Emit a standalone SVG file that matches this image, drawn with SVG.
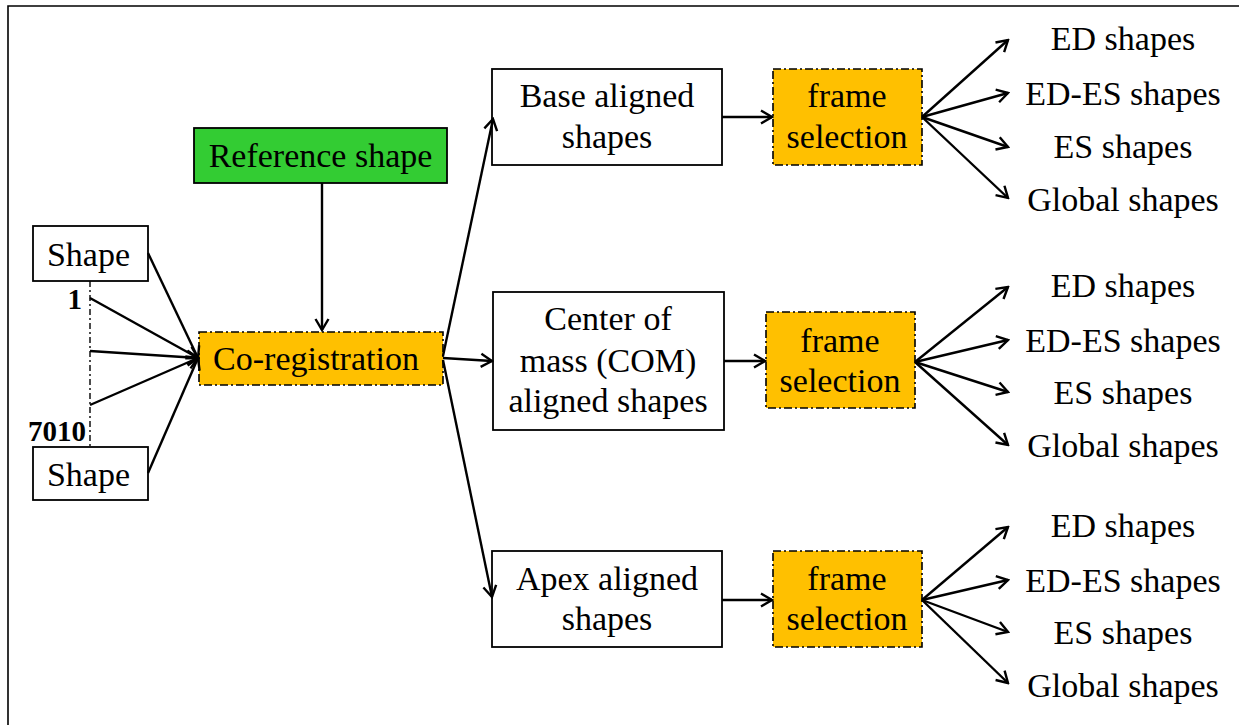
<svg xmlns="http://www.w3.org/2000/svg" width="1239" height="725" viewBox="0 0 1239 725">
<style>
text{font-family:"Liberation Serif","Times New Roman",serif;font-size:34px;fill:#000;text-anchor:middle}
.b{font-weight:bold;font-size:29px;text-anchor:end}
.box{fill:#fff;stroke:#000;stroke-width:1.8}
.sel{fill:#FFC000;stroke:#000;stroke-width:1.6;stroke-dasharray:8 3 2 3}
.ref{fill:#33CC33;stroke:#000;stroke-width:1.8}
.c line{stroke:#000;stroke-width:2.4;marker-end:url(#ah)}
</style>
<defs>
<marker id="ah" viewBox="-13 -8 15 16" refX="0" refY="0" markerWidth="15" markerHeight="16" markerUnits="userSpaceOnUse" orient="auto">
<path d="M-11,-6.5 L0,0 L-11,6.5" fill="none" stroke="#000" stroke-width="2.4"/>
</marker>
</defs>
<rect width="1239" height="725" fill="#fff"/>
<path d="M8,725 L8,6 L1239,6" fill="none" stroke="#000" stroke-width="1.6"/>

<g id="shape1"><rect class="box" x="33" y="226" width="115" height="55"/><text x="88.5" y="266">Shape</text></g>
<g id="shape2"><rect class="box" x="33" y="447" width="115" height="53"/><text x="88.5" y="486">Shape</text></g>
<g id="range"><line x1="90" y1="281" x2="90" y2="447" stroke="#000" stroke-width="1.4" stroke-dasharray="6 3 2 3"/><text class="b" x="82" y="309">1</text><text class="b" x="86" y="441">7010</text></g>
<g id="ref"><rect class="ref" x="194" y="128" width="253" height="55"/><text x="320.5" y="167">Reference shape</text></g>
<g id="coreg"><rect class="sel" x="199" y="332" width="244" height="53"/><text x="316" y="370">Co-registration</text></g>

<g id="base"><rect class="box" x="492" y="69" width="230" height="96"/><text x="607" y="107">Base aligned</text><text x="607" y="148">shapes</text></g>
<g id="com"><rect class="box" x="493" y="292" width="231" height="138"/><text x="608" y="330">Center of</text><text x="608" y="372">mass (COM)</text><text x="608" y="412">aligned shapes</text></g>
<g id="apex"><rect class="box" x="492" y="551" width="230" height="96"/><text x="607" y="590">Apex aligned</text><text x="607" y="630">shapes</text></g>

<g id="fs1"><rect class="sel" x="773" y="69" width="149" height="96"/><text x="847" y="107">frame</text><text x="847" y="148">selection</text></g>
<g id="fs2"><rect class="sel" x="766" y="312" width="149" height="96"/><text x="840" y="352">frame</text><text x="840" y="392">selection</text></g>
<g id="fs3"><rect class="sel" x="773" y="551" width="149" height="96"/><text x="847" y="590">frame</text><text x="847" y="630">selection</text></g>

<g id="out1"><text x="1123" y="50">ED shapes</text><text x="1123" y="105">ED-ES shapes</text><text x="1123" y="158">ES shapes</text><text x="1123" y="211">Global shapes</text></g>
<g id="out2"><text x="1123" y="297">ED shapes</text><text x="1123" y="352">ED-ES shapes</text><text x="1123" y="404">ES shapes</text><text x="1123" y="457">Global shapes</text></g>
<g id="out3"><text x="1123" y="537">ED shapes</text><text x="1123" y="592">ED-ES shapes</text><text x="1123" y="644">ES shapes</text><text x="1123" y="697">Global shapes</text></g>

<g id="connectors" class="c">
<line x1="148" y1="253" x2="198" y2="358"/>
<line x1="90" y1="298" x2="198" y2="358"/>
<line x1="90" y1="351" x2="198" y2="358"/>
<line x1="90" y1="405" x2="198" y2="358"/>
<line x1="148" y1="473" x2="198" y2="358"/>
<line x1="322" y1="183" x2="322" y2="330"/>
<line x1="443" y1="356" x2="493" y2="119"/>
<line x1="443" y1="358" x2="492" y2="361"/>
<line x1="443" y1="360" x2="492" y2="597"/>
<line x1="722" y1="117" x2="772" y2="117"/>
<line x1="724" y1="361" x2="765" y2="361"/>
<line x1="722" y1="600" x2="772" y2="600"/>
<line x1="922" y1="117" x2="1008" y2="40"/>
<line x1="922" y1="117" x2="1008" y2="93"/>
<line x1="922" y1="117" x2="1008" y2="147"/>
<line x1="922" y1="117" x2="1008" y2="198"/>
<line x1="915" y1="362" x2="1008" y2="287"/>
<line x1="915" y1="362" x2="1008" y2="340"/>
<line x1="915" y1="362" x2="1008" y2="392"/>
<line x1="915" y1="362" x2="1008" y2="445"/>
<line x1="922" y1="600" x2="1008" y2="527"/>
<line x1="922" y1="600" x2="1008" y2="580"/>
<line x1="922" y1="600" x2="1008" y2="632"/>
<line x1="922" y1="600" x2="1008" y2="683"/>
</g>
</svg>
